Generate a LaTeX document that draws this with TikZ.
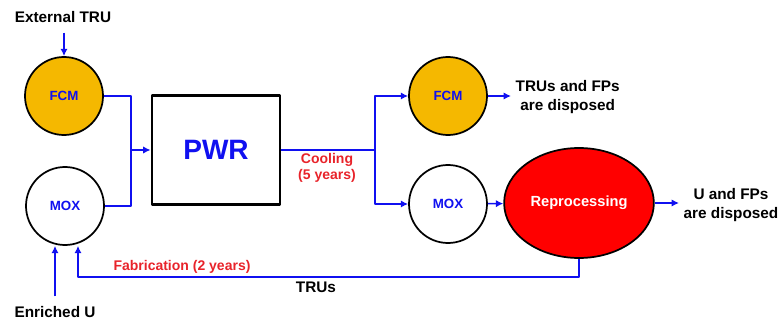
\documentclass[tikz,border=0pt]{standalone}
\usepackage{fontspec}
\setmainfont{Liberation Sans}
\usetikzlibrary{arrows.meta, calc, positioning, shapes.geometric}
\definecolor{fcmgold}{HTML}{F5B800}
\definecolor{lblred}{HTML}{E8232A}
\definecolor{flowblue}{HTML}{1010F0}
\tikzset{
  pix/.style={x=0.75pt, y=-0.75pt, >={Latex[length=5.5pt,width=5.5pt]},
    line join=round, every node/.style={font=\bfseries}},
  fuel/.style={circle, draw=black, line width=1.3pt, minimum size=58.5pt, inner sep=0pt,
    text=flowblue, font=\bfseries\fontsize{10}{12}\selectfont},
  fcm/.style={fuel, fill=fcmgold},
  mox/.style={fuel, fill=white},
  flow/.style={->, draw=flowblue, line width=1.2pt},
  pipe/.style={draw=flowblue, line width=1.2pt},
  note/.style={align=center, font=\bfseries\fontsize{11.5}{14}\selectfont},
  stage/.style={text=lblred, align=center, font=\bfseries\fontsize{10.5}{12.5}\selectfont},
}
\begin{document}
\begin{tikzpicture}[pix]
  \useasboundingbox (0,0) rectangle (781,320);
  % fuel inputs on the left
  \node[note] (ext) at (63,17) {External TRU};
  \node[fcm] (fcmA) at (64,96) {FCM};
  \node[mox] (moxA) at (65,206) {MOX};
  \node[note] (enr) at (55,312) {Enriched U};
  % reactor
  \node[rectangle, draw=black, line width=2.2pt, minimum width=96pt, minimum height=81.75pt,
    text=flowblue, font=\bfseries\fontsize{21}{24}\selectfont] (pwr) at (216,150) {PWR};
  % spent fuel and its back end
  \node[fcm] (fcmB) at (448,96) {FCM};
  \node[mox] (moxB) at (448,204) {MOX};
  \node[ellipse, draw=black, line width=1.3pt, fill=red, minimum width=105pt, minimum height=82.5pt,
    text=white, font=\bfseries\fontsize{11}{13}\selectfont] (repro) at (579,203) {Reprocessing};
  \node[note, anchor=west] (disp1) at (511,97) {TRUs and FPs\\are disposed};
  \node[note, anchor=west] (disp2) at (679,205) {U and FPs\\are disposed};
  % junctions of the piping
  \coordinate (jL) at (131,150);
  \coordinate (jR) at (375,150);
  \coordinate (jB) at (78,277);
  % connectors
  \draw[flow, shorten <=4pt] (fcmA |- ext.south) -- (fcmA.north);
  \draw[flow] (fcmA.east) -| (jL) -- (pwr.west);
  \draw[pipe] (moxA.east) -| (jL);
  \draw[pipe] (pwr.east) -- (jR);
  \draw[flow] (jR) |- (fcmB.west);
  \draw[flow] (jR) |- (moxB.west);
  \draw[flow] (fcmB.east) -- (fcmB.east -| disp1.west);
  \draw[flow] (moxB) -- (repro);
  \draw[flow] (repro.east) -- (repro.east -| disp2.west);
  \draw[flow] (repro.south) |- (jB) -- (jB |- moxA.south);
  \draw[flow, shorten <=4pt] (enr) -- (enr |- moxA.south);
  % stage labels
  \node[stage] (cool) at (327,168) {Cooling\\(5 years)};
  \node[stage] (fab) at (182,267) {Fabrication (2 years)};
  \node[note] (trus) at (316,287) {TRUs};
\end{tikzpicture}
\end{document}
